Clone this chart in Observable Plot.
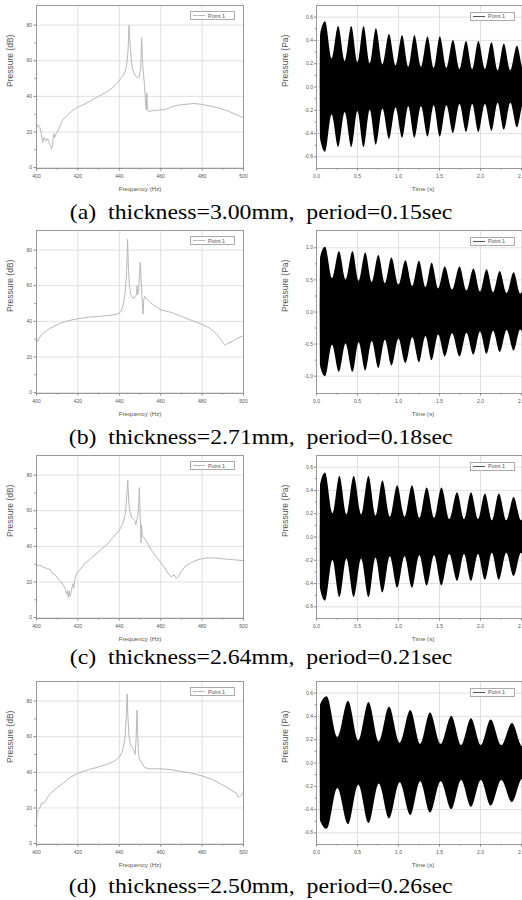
<!DOCTYPE html>
<html><head><meta charset="utf-8">
<script src="https://cdn.jsdelivr.net/npm/d3@7"></script>
<script src="https://cdn.jsdelivr.net/npm/@observablehq/plot@0.6"></script>
<style>
html,body{margin:0;padding:0;background:#fff;}
#root{position:relative;width:522px;height:900px;overflow:hidden;background:#fff;}
.panel{position:absolute;}
.cap{position:absolute;left:0;width:522px;text-align:center;font-family:"Liberation Serif","Times New Roman",serif;font-size:22px;line-height:22px;white-space:pre;color:#000;}
.cap span{display:inline-block;transform:scaleX(1.08);transform-origin:center;}
.legend{position:absolute;box-sizing:border-box;border:1px solid #aaa;background:#fff;height:9px;width:45px;font:5.5px "Liberation Sans",Arial,sans-serif;color:#555;}
.legend .ln{position:absolute;left:2px;top:3px;width:12px;height:0.7px;}
.legend .tx{position:absolute;left:17px;top:0.5px;line-height:7px;white-space:pre;}
</style></head><body><div id="root"></div>
<script>
// ---------- captions ----------
const captions = [
  "(a)  thickness=3.00mm,  period=0.15sec",
  "(b)  thickness=2.71mm,  period=0.18sec",
  "(c)  thickness=2.64mm,  period=0.21sec",
  "(d)  thickness=2.50mm,  period=0.26sec"
];
const legendLabel = "Point 1";

// ---------- tick labels ----------
const freqTicks = [400, 420, 440, 460, 480, 500];
const freqMinor = [410, 430, 450, 470, 490];
const dbTicks = [0, 20, 40, 60, 80];
const dbMinor = [10, 30, 50, 70];
const timeTicks = [0, 0.5, 1.0, 1.5, 2.0, 2.5];
const timeMinor = [0.25, 0.75, 1.25, 1.75, 2.25];
const paTicksSmall = [-0.6, -0.4, -0.2, 0, 0.2, 0.4, 0.6];
const paMinorSmall = [-0.5, -0.3, -0.1, 0.1, 0.3, 0.5];
const paTicksLarge = [-1.0, -0.5, 0, 0.5, 1.0];
const paMinorLarge = [-0.75, -0.25, 0.25, 0.75];

// ---------- spectra (Frequency Hz, Pressure dB) ----------
const freqA = [400,400.7,401.5,402.3,403,403.7,404.5,405.3,406,406.8,407.3,407.8,408.3,408.8,409.5,410.5,411.5,412.5,414,416,418,420,423,426,430,434,437,439,441,442.5,443.5,444.2,444.7,445.2,445.8,446.5,447.5,448.5,449.5,450.3,450.8,451.3,451.8,452.2,452.6,453,453.3,453.6,454.2,456,458,460,462,465,468,472,476,480,484,488,492,496,500];
const dbA   = [22,24,23,19,14,17,15,16.5,14,12,10.5,13,19,17,19,21,24,26.5,28.5,30.5,32.5,34,35.5,37.5,40,42.5,45,47.5,50.5,53,57,65,80,70,60,55,52,50.5,51,55,73,58,51,46,38,32.5,42,33,31.5,32,32,32.5,32.5,34,35,35.5,36,35.5,34.5,33.5,32,30,28];

const freqB = [400,400.5,401.5,403,405,408,411,415,420,425,430,435,438,440,441,442,442.8,443.5,444,444.4,444.9,445.5,446.5,447.5,448.3,448.6,448.9,449.4,449.8,450.1,450.5,450.9,451.2,451.5,451.8,452.3,453,455,458,460,465,470,475,480,484,487,489,490.5,491.3,492,493,495,497,500];
const dbB   = [30,28.5,31,33,35,37,38.8,40.3,41.5,42.3,42.8,43.3,43.8,44.5,46,50,56,66,86,70,60,55,53,53.5,55,60,55,58,66,73,64,55,50,44,52,54,53,50.5,48,46.5,45,42.8,40.5,38.3,36,33,30,27.5,26.5,27.5,28,29,30.5,32];

const freqC = [400,401.5,403,405,406.5,407.5,409,410,411,412,413,414,414.6,415,415.4,415.8,416.3,417,417.5,418,418.6,419.5,421,423,426,430,434,437,440,442,443,443.7,444.1,444.5,445,446,447,447.5,448,448.5,449,449.4,449.7,450,450.3,450.5,450.7,451,451.5,452,454,456,458,460,462,464,465,466.5,467.5,468.5,470,472,475,478,482,486,490,495,500];
const dbC   = [29,29.5,28.5,27.5,27,25,24,22.5,21,20,18,16,13,15,11,15,12,16,19,16.5,22,25,27,30,33,37,41,45,49,53.5,59,70,77,66,60,56,55,54.5,52,55,57,65,73,60,50,42,52,47,45,45,41,37,34,31,28,24,23,24,22,23,26,29,31,32.5,33.5,33.5,33,32.5,32];

const freqD = [400,400.3,401,402,402.5,403.5,404.5,405.3,406,408,410,413,416,420,425,430,435,438,440,441,442,442.8,443.4,443.8,444.2,444.7,445.5,446.5,447.2,447.6,448,448.3,448.6,448.9,449.3,449.6,450,451,452,454,457,460,465,470,475,480,485,489,492,494,495.5,496.5,497.5,498.5,499.5,500];
const dbD   = [12,17,19,21,23,22.5,24,26,27,29.5,31.5,34,37,39.5,41.5,43,45,46.5,48.5,50.5,54,60,72,84,70,60,55,53.5,52,50,56,65,75,62,50,48,47,45,43,42,42,42,41.5,40.5,39.5,38,36,33.5,31.5,30,29,28.5,26,26.5,28,29];

// ---------- waveform envelopes (Time s, amplitude Pa at peaks and troughs) ----------
const timeA = [0.045,0.05,0.11,0.19,0.27,0.35,0.43,0.505,0.58,0.655,0.73,0.81,0.89,0.97,1.05,1.125,1.20,1.28,1.36,1.435,1.51,1.59,1.67,1.75,1.83,1.905,1.98,2.06,2.14,2.215,2.29,2.37,2.45,2.53,2.60];
const ampA  = [0,0.45,0.56,0.24,0.52,0.22,0.52,0.21,0.52,0.20,0.50,0.19,0.45,0.18,0.44,0.17,0.44,0.17,0.43,0.16,0.43,0.16,0.40,0.15,0.39,0.15,0.39,0.15,0.38,0.14,0.37,0.14,0.35,0.14,0.34];

const timeB = [0.045,0.05,0.11,0.195,0.28,0.36,0.445,0.52,0.60,0.68,0.76,0.84,0.92,1.005,1.09,1.175,1.255,1.335,1.41,1.49,1.57,1.66,1.75,1.835,1.92,2.00,2.08,2.16,2.24,2.325,2.41,2.49,2.57];
const ampB  = [0,0.85,1.01,0.52,0.94,0.50,0.94,0.48,0.92,0.46,0.88,0.44,0.84,0.42,0.80,0.40,0.79,0.38,0.76,0.36,0.70,0.34,0.70,0.33,0.67,0.31,0.66,0.30,0.63,0.29,0.61,0.28,0.59];

const timeC = [0.045,0.05,0.11,0.20,0.285,0.37,0.46,0.55,0.64,0.725,0.81,0.90,0.99,1.08,1.17,1.26,1.35,1.44,1.53,1.625,1.72,1.805,1.89,1.975,2.06,2.145,2.23,2.32,2.41,2.50,2.59];
const ampC  = [0,0.45,0.55,0.20,0.52,0.19,0.52,0.19,0.52,0.18,0.48,0.17,0.44,0.17,0.44,0.16,0.42,0.16,0.42,0.15,0.38,0.15,0.38,0.15,0.37,0.14,0.37,0.14,0.34,0.14,0.33];

const timeD = [0.045,0.05,0.13,0.26,0.39,0.515,0.64,0.765,0.89,1.02,1.15,1.27,1.39,1.52,1.65,1.77,1.89,2.01,2.13,2.26,2.39,2.515,2.64];
const ampD  = [0,0.50,0.57,0.22,0.53,0.19,0.52,0.18,0.48,0.17,0.45,0.16,0.43,0.16,0.40,0.15,0.38,0.15,0.37,0.15,0.34,0.14,0.33];

// ---------- layout ----------
const rowTops = [0, 225, 450, 676];
const capBaselines = [219.5, 444.5, 664.5, 893];
const rows = [
  {freq: freqA, db: dbA, time: timeA, amp: ampA, big: false},
  {freq: freqB, db: dbB, time: timeB, amp: ampB, big: true},
  {freq: freqC, db: dbC, time: timeC, amp: ampC, big: false},
  {freq: freqD, db: dbD, time: timeD, amp: ampD, big: false}
];

const FONT = "'Liberation Sans', Arial, sans-serif";
const root = document.getElementById("root");

function spectrum(freq, db) {
  const data = freq.map((f, i) => ({f, v: db[i]}));
  return Plot.plot({
    width: 260, height: 200,
    marginLeft: 36, marginRight: 17, marginTop: 5, marginBottom: 32,
    style: {fontFamily: FONT, fontSize: "5px", color: "#555", background: "transparent"},
    x: {domain: [400, 500]},
    y: {domain: [-0.5, 91]},
    marks: [
      Plot.gridX(freqTicks, {stroke: "#d8d8d8", strokeOpacity: 1, strokeWidth: 0.8}),
      Plot.gridY(dbTicks, {stroke: "#d8d8d8", strokeOpacity: 1, strokeWidth: 0.8}),
      Plot.line(data, {x: "f", y: "v", stroke: "#b8b8b8", strokeWidth: 1}),
      Plot.frame({stroke: "#999", strokeWidth: 1}),
      Plot.axisX(freqTicks, {tickSize: 2.5, tickPadding: 3, tickFormat: d => String(d), label: null, stroke: "#888"}),
      Plot.axisX(freqMinor, {tickSize: 1.5, tickFormat: () => "", label: null, stroke: "#888"}),
      Plot.axisY(dbTicks, {tickSize: 2.5, tickPadding: 2, tickFormat: d => String(d), label: null, stroke: "#888"}),
      Plot.axisY(dbMinor, {tickSize: 1.5, tickFormat: () => "", label: null, stroke: "#888"}),
      Plot.text(["Frequency (Hz)"], {frameAnchor: "bottom", dy: 22, fontSize: 6.2, fill: "#555"}),
      Plot.text(["Pressure (dB)"], {frameAnchor: "left", dx: -26, rotate: -90, fontSize: 8.5, fill: "#555"})
    ]
  });
}

function waveform(time, amp, big) {
  const data = time.map((t, i) => ({t, a: amp[i]}));
  const yt = big ? paTicksLarge : paTicksSmall;
  const ym = big ? paMinorLarge : paMinorSmall;
  const lim = big ? 1.27 : 0.7;
  return Plot.plot({
    width: 300, height: 200,
    marginLeft: 56, marginRight: 30.8, marginTop: 5, marginBottom: 32,
    style: {fontFamily: FONT, fontSize: "5px", color: "#555", background: "transparent"},
    x: {domain: [0, 2.6]},
    y: {domain: [-lim, lim]},
    marks: [
      Plot.gridX(timeTicks, {stroke: "#d8d8d8", strokeOpacity: 1, strokeWidth: 0.8}),
      Plot.gridY(yt, {stroke: "#d8d8d8", strokeOpacity: 1, strokeWidth: 0.8}),
      Plot.areaY(data, {x: "t", y1: d => -d.a, y2: "a", fill: "black", curve: "monotone-x"}),
      Plot.frame({stroke: "#999", strokeWidth: 1}),
      Plot.axisX(timeTicks, {tickSize: 2.5, tickPadding: 3, tickFormat: d => d.toFixed(1), label: null, stroke: "#888"}),
      Plot.axisX(timeMinor, {tickSize: 1.5, tickFormat: () => "", label: null, stroke: "#888"}),
      Plot.axisY(yt, {tickSize: 2, tickPadding: 1.5, tickFormat: d => d.toFixed(1), label: null, stroke: "#888"}),
      Plot.axisY(ym, {tickSize: 1.2, tickFormat: () => "", label: null, stroke: "#888"}),
      Plot.text(["Time (s)"], {frameAnchor: "bottom", dy: 22, fontSize: 6.2, fill: "#555"}),
      Plot.text(["Pressure (Pa)"], {frameAnchor: "left", dx: -31, rotate: -90, fontSize: 8.5, fill: "#555"})
    ]
  });
}

function legend(left, top, lineColor) {
  const d = document.createElement("div");
  d.className = "legend";
  d.style.left = left + "px";
  d.style.top = top + "px";
  const ln = document.createElement("div");
  ln.className = "ln";
  ln.style.background = lineColor;
  const tx = document.createElement("div");
  tx.className = "tx";
  tx.textContent = legendLabel;
  d.appendChild(ln); d.appendChild(tx);
  root.appendChild(d);
}

rows.forEach((r, i) => {
  const top = rowTops[i];
  const L = document.createElement("div");
  L.className = "panel"; L.style.left = "0px"; L.style.top = top + "px"; L.style.width = "260px";
  L.appendChild(spectrum(r.freq, r.db));
  root.appendChild(L);

  const R = document.createElement("div");
  R.className = "panel"; R.style.left = "260px"; R.style.top = top + "px"; R.style.width = "300px";
  R.appendChild(waveform(r.time, r.amp, r.big));
  root.appendChild(R);

  legend(190, top + 11, "#b8b8b8");
  legend(470, top + 11.5, "#555");

  const c = document.createElement("div");
  c.className = "cap";
  c.style.top = (capBaselines[i] - 18.4) + "px";
  const s = document.createElement("span");
  s.textContent = captions[i];
  c.appendChild(s);
  root.appendChild(c);
});
</script>
</body></html>
